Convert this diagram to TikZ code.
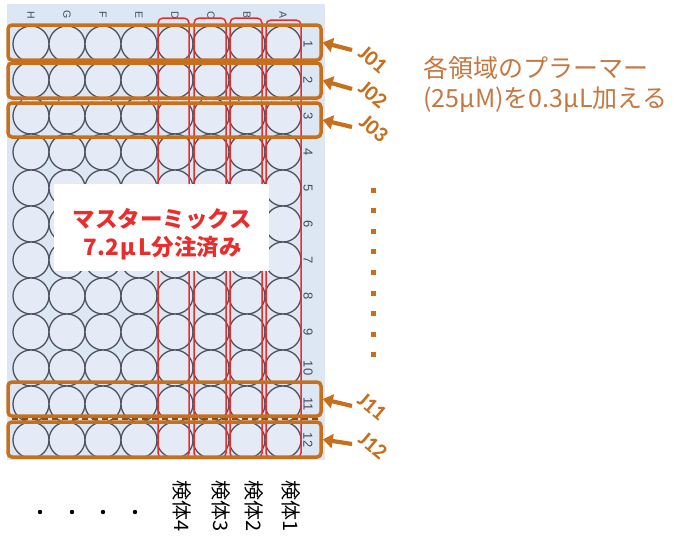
\documentclass[tikz,border=0pt]{standalone}
\usepackage{fontspec}
\setmainfont{Carlito}
\newfontfamily\jp{Noto Sans CJK JP}
\newfontfamily\lsans{Liberation Sans}
\usetikzlibrary{arrows.meta}
\definecolor{plate}{RGB}{221,230,243}
\definecolor{well}{RGB}{228,234,246}
\definecolor{wellline}{RGB}{78,84,98}
\definecolor{obox}{RGB}{198,112,30}
\definecolor{otext}{RGB}{196,120,66}
\definecolor{rbox}{RGB}{232,45,45}
\definecolor{lbl}{RGB}{70,75,95}
\tikzset{
  wellc/.style={draw=wellline, fill=well, line width=1.3pt},
  collbl/.style={font=\lsans\fontsize{10.5}{10.5}\selectfont, text=lbl, rotate=-90, inner sep=0pt},
  rowlbl/.style={font=\lsans\fontsize{13}{13}\selectfont, text=lbl, rotate=-90, inner sep=0pt},
  rowbox/.style={draw=obox, line width=3.5pt, rounded corners=4pt, minimum width=313pt, inner sep=0pt},
  redbox/.style={draw=rbox, line width=1.5pt, rounded corners=5pt},
  jlabel/.style={font=\bfseries\fontsize{22}{22}\selectfont, text=obox, rotate=-40, inner sep=0pt},
  oarrow/.style={draw=obox, line width=4.2pt, -{Triangle[length=10pt,width=14pt]}},
  sample/.style={font=\jp\fontsize{20}{20}\selectfont, rotate=-90, inner sep=0pt},
  gapdash/.style={line width=2pt, dash pattern=on 6pt off 4pt},
}
\begin{document}
\begin{tikzpicture}[x=1pt,y=-1pt]
\useasboundingbox (0,0) rectangle (677,552);
% plate
\fill[plate] (7,4) rectangle (325,460);
\foreach \c in {0,...,7}
  \foreach \r in {0,...,11}
    \draw[wellc] (31+36*\c,44+36*\r) circle[radius=18pt];
% column letters
\foreach \l [count=\i from 0] in {H,G,F,E,D,C,B,A}
  \node[collbl] (col\l) at (31+36*\i,15) {\l};
% row numbers
\foreach \n in {1,...,12}
  \node[rowlbl] (num\n) at (308,44+36*\n-36) {\n};
% red column boxes
\draw[redbox] (158,18) rectangle (189,458);
\draw[redbox] (194,18) rectangle (226,458);
\draw[redbox] (230,18) rectangle (262,458);
\draw[redbox] (266,20) rectangle (301,458);
% gaps between row boxes
\draw[gapdash, orange!35] (12,62) -- (318,62);
\draw[gapdash, orange!35] (12,100.5) -- (318,100.5);
\draw[gapdash, obox!70!black] (12,419) -- (318,419);
% row boxes
\node[rowbox, minimum height=35pt] (b01) at (164.5,42.5) {};
\node[rowbox, minimum height=35pt] (b02) at (164.5,80.5) {};
\node[rowbox, minimum height=34pt] (b03) at (164.5,120) {};
\node[rowbox, minimum height=34pt] (b11) at (164.5,399) {};
\node[rowbox, minimum height=35pt] (b12) at (164.5,439.5) {};
% labels J
\node[jlabel] (J01) at (373,60) {J01};
\node[jlabel] (J02) at (373,95) {J02};
\node[jlabel] (J03) at (374,129) {J03};
\node[jlabel] (J11) at (372,407) {J11};
\node[jlabel] (J12) at (373,446) {J12};
\coordinate (t01) at (352,50);
\coordinate (t02) at (352,89);
\coordinate (t03) at (352,127);
\coordinate (t11) at (352,406);
\coordinate (t12) at (352,444);
\draw[oarrow] (t01) -- (b01.east);
\draw[oarrow] (t02) -- (b02.east);
\draw[oarrow] (t03) -- (b03.east);
\draw[oarrow] (t11) -- (b11.east);
\draw[oarrow] (t12) -- (b12.east);
% note text
\node[anchor=west, text=otext, font=\jp\fontsize{25}{30}\selectfont, align=left, inner sep=0pt] (note) at (423,84)
  {各領域のプラーマー\\(25µM)を0.3µL加える};
% dotted line
\foreach \i in {0,...,8}
  \fill[obox] (370.5,187.5+20.6*\i) rectangle (375.5,192.5+20.6*\i);
% white box
\node[fill=white, minimum width=215pt, minimum height=87pt, inner sep=0pt] (mixbox) at (161,227) {};
\node[text=rbox, font=\jp\bfseries\fontsize{22.5}{28}\selectfont, align=center, inner sep=0pt] (mix) at (162.5,234)
  {マスターミックス\\7.2\kern2ptμ\kern2ptL分注済み};
% sample labels
\node[sample] (s1) at (291,506) {検体1};
\node[sample] (s2) at (254,506) {検体2};
\node[sample] (s3) at (221,506) {検体3};
\node[sample] (s4) at (182,506) {検体4};
% dots
\foreach \x in {40,72,103,135}
  \fill (\x,512) circle[radius=2.2pt];
\end{tikzpicture}
\end{document}
